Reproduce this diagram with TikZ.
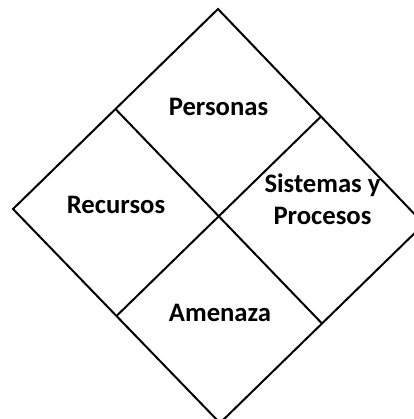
\documentclass[tikz,border=0pt]{standalone}
\usepackage{fontspec}
\setmainfont{Carlito}
\usepackage{tikz}
\usetikzlibrary{positioning}				%TikZ Libraries

\begin{document}
\begin{tikzpicture}[x=0.75pt,y=-0.75pt,line width=1.5pt,
	field/.style={font=\fontsize{20}{24}\selectfont\bfseries,align=center,inner sep=0pt}]
		\clip (0,0) rectangle (414,419);
		% outer diamond
		\coordinate (top) at (218,9);
		\coordinate (left) at (13,209);
		\coordinate (bottom) at (220,423);
		\coordinate (right) at (424,224);
		\draw (top) -- (right) -- (bottom) -- (left) -- cycle;
		% inner cross
		\coordinate (tl) at (115.5,109);
		\coordinate (tr) at (321,116.5);
		\coordinate (bl) at (116.5,316);
		\coordinate (br) at (322,323.5);
		\draw (tl) -- (br);
		\draw (tr) -- (bl);
		\node[field] (personas) at (218.5,107) {Personas};
		\node[field] (recursos) at (116,205) {Recursos};
		\node[field] (sistemas) at (322.5,199) {Sistemas y\\Procesos};
		\node[field] (amenaza) at (220,313) {Amenaza};
\end{tikzpicture}
\end{document}
